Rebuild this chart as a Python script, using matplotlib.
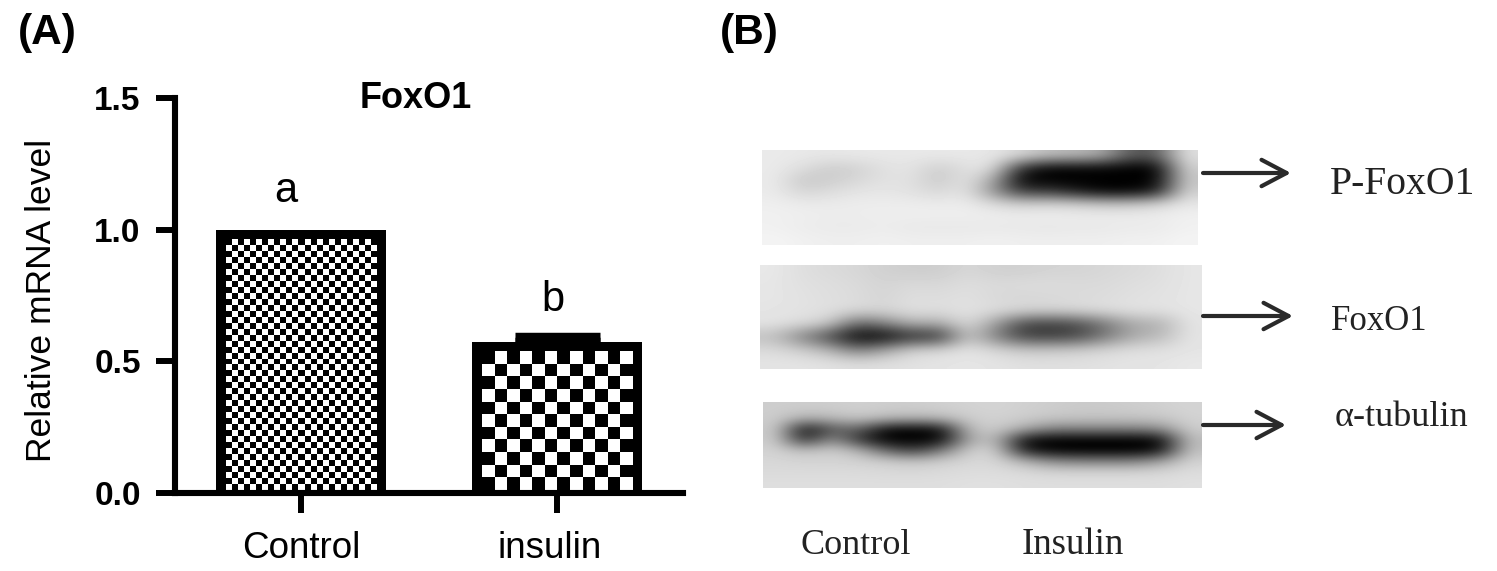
import numpy as np
import matplotlib
matplotlib.use('Agg')
import matplotlib.pyplot as plt
from matplotlib.transforms import ScaledTranslation

W, H = 1497, 571

# Bar chart values
categories = ['Control', 'insulin']
means = [1.0, 0.573]
errors = [0.0, 0.018]
letters = ['a', 'b']
yticks = [0.0, 0.5, 1.0, 1.5]

# Blot darkness grids (grey levels, 8 rows x 16 columns)
blot_pfoxo1 = [
    [234, 232, 230, 232, 232, 232, 232, 232, 230, 215, 190, 185, 170,  90,  90, 225],
    [234, 222, 205, 210, 225, 228, 205, 225, 225,  50,   5,   5,   5,   0,   0, 210],
    [234, 200, 205, 215, 225, 225, 200, 228, 170,   5,   0,   0,   0,   0,   0, 200],
    [234, 212, 220, 228, 230, 225, 215, 228, 150,  60,  60,  30,   5,   5,  30, 210],
    [238, 234, 234, 236, 236, 236, 234, 236, 218, 205, 210, 205, 195, 195, 210, 230],
    [240, 238, 236, 236, 238, 238, 238, 238, 238, 236, 238, 236, 236, 236, 236, 240],
    [240, 236, 234, 234, 236, 232, 232, 232, 232, 232, 230, 232, 232, 234, 234, 240],
    [244, 240, 238, 238, 240, 238, 238, 238, 240, 238, 238, 238, 238, 240, 240, 244],
]
blot_foxo1 = [
    [232, 222, 218, 215, 208, 205, 205, 215, 208, 208, 212, 212, 215, 218, 222, 230],
    [230, 224, 222, 218, 212, 218, 215, 222, 218, 220, 220, 218, 218, 222, 224, 230],
    [230, 226, 222, 220, 212, 222, 220, 224, 216, 214, 216, 218, 220, 224, 226, 230],
    [228, 226, 224, 218, 214, 224, 222, 226, 222, 216, 214, 218, 222, 226, 226, 230],
    [228, 220, 205, 100, 130, 180, 170, 222, 160,  70,  60,  75, 120, 170, 175, 228],
    [190, 130,  70,   0,   0,  40,  40, 200, 130,  65,  60,  70, 120, 170, 185, 228],
    [218, 205, 180, 120, 160, 210, 215, 228, 215, 200, 200, 205, 215, 222, 224, 228],
    [228, 228, 226, 222, 224, 226, 228, 230, 228, 224, 224, 224, 226, 228, 228, 232],
]
blot_tubulin = [
    [205, 205, 205, 208, 205, 205, 208, 210, 212, 208, 205, 202, 202, 205, 208, 212],
    [205, 175, 185, 198, 185, 180, 185, 205, 210, 205, 198, 195, 195, 195, 198, 210],
    [205,  10,  90, 100,  10,   5,  15, 190, 205, 170, 130, 130, 130, 130, 140, 205],
    [205,  35, 150,  50,   0,   0,   5, 170, 190,  15,   0,   0,   0,   0,   5, 190],
    [210, 190, 205, 180, 100,  60, 120, 205, 210,  30,   5,   0,   0,   0,  15, 195],
    [215, 212, 212, 210, 205, 195, 205, 215, 215, 180, 140, 130, 130, 130, 160, 210],
    [218, 218, 218, 218, 216, 216, 218, 220, 220, 218, 212, 212, 212, 212, 214, 220],
    [222, 222, 222, 222, 222, 222, 222, 224, 224, 222, 222, 222, 222, 222, 222, 224],
]
blot_grids = [blot_pfoxo1, blot_foxo1, blot_tubulin]
blot_names = ['P-FoxO1', 'FoxO1', '\u03b1-tubulin']
lane_names = ['Control', 'Insulin']

# pixel layout of the blot panel
blot_extents = [(762, 1198, 245, 150), (760, 1202, 369, 265), (763, 1202, 488, 402)]
arrow_y = [173, 316, 425]
arrow_end = [1291, 1293, 1286]
name_x = [1330, 1331, 1335]
name_y = [185, 322, 418]
name_size = [28.5, 25, 26]
lane_x = [800, 1022]
lane_size = [26, 26.5]

plt.rcParams['font.family'] = ['Liberation Sans', 'DejaVu Sans']

fig = plt.figure(figsize=(W / 100, H / 100), dpi=100)

# panel A
left, right, top, bottom = 175, 683, 98, 493
ax = fig.add_axes([left / W, 1 - bottom / H, (right - left) / W, (bottom - top) / H])
x_unit = 256
y_unit = (bottom - top) / 1.5
x = np.arange(len(categories))
bars = ax.bar(x, means, width=170 / x_unit, color='black', zorder=2)
ax.errorbar(x[1:], means[1:], yerr=[[0], errors[1:]], color='black', capsize=30.6,
            capthick=6.8, elinewidth=4, fmt='none', zorder=1)

# checker fill inside each bar, the bar keeps a thick black border
inset = 9.5
cell_px = [6, 12.2]
for bar, cell in zip(bars, cell_px):
    x0 = bar.get_x() + inset / x_unit
    x1 = bar.get_x() + bar.get_width() - inset / x_unit
    y0 = 3 / y_unit
    y1 = bar.get_height() - inset / y_unit
    nx = int(round((x1 - x0) * x_unit / cell))
    ny = int(round((y1 - y0) * y_unit / cell))
    rows, cols = np.indices((ny, nx))
    ax.imshow((rows + cols) % 2, cmap='gray', extent=(x0, x1, y0, y1), aspect='auto',
              interpolation='nearest', zorder=3)

ax.set_xlim(-126 / x_unit, (right - left - 126) / x_unit)
ax.set_ylim(0, 1.5)
ax.set_xticks(x)
ax.set_xticklabels(categories, fontsize=26.5)
ax.set_yticks(yticks)
ax.set_yticklabels(['%.1f' % v for v in yticks], fontsize=24, fontweight='bold')
ax.tick_params(axis='y', length=13.7, width=4.3, pad=11)
ax.tick_params(axis='x', length=14.4, width=4.3, pad=13)
# the insulin label sits a little left of its tick
lab = ax.get_xticklabels()[1]
lab.set_transform(lab.get_transform() + ScaledTranslation(-7 / 100, 0, fig.dpi_scale_trans))
for side in ['top', 'right']:
    ax.spines[side].set_visible(False)
for side in ['left', 'bottom']:
    ax.spines[side].set_linewidth(4.4)
    ax.spines[side].set_zorder(5)
ax.patch.set_visible(False)
for pos, letter, mean, err in zip(x, letters, means, errors):
    ax.text(pos - 0.06 if pos == 0 else pos - 0.015, mean + err + (0.07 if pos == 0 else 0.065), letter,
            fontsize=30, ha='center', va='bottom')

# panel B and the loose text, in picture pixels
ov = fig.add_axes([0, 0, 1, 1])
ov.set_xlim(0, W)
ov.set_ylim(H, 0)
ov.axis('off')
ov.patch.set_visible(False)
for grid, ext in zip(blot_grids, blot_extents):
    ov.imshow(np.array(grid), cmap='gray', vmin=0, vmax=255, extent=ext, aspect='auto',
              interpolation='bicubic')
ov.set_xlim(0, W)
ov.set_ylim(H, 0)

for y, end in zip(arrow_y, arrow_end):
    ov.annotate('', xy=(end, y), xytext=(1203, y),
                arrowprops=dict(arrowstyle='->,head_length=1.8,head_width=0.95', color='#2a2a2a',
                                lw=3, shrinkA=0, shrinkB=0))
for label, lx, ly, size in zip(blot_names, name_x, name_y, name_size):
    ov.text(lx, ly, label, family='Liberation Serif', fontsize=size, color='#222222',
            ha='left', va='center')
for label, lx, size in zip(lane_names, lane_x, lane_size):
    ov.text(lx, 545, label, family='Liberation Serif', fontsize=size, color='#222222',
            ha='left', va='center')

ov.text(18, 33, '(A)', fontsize=30.5, fontweight='bold', ha='left', va='center')
ov.text(720, 33, '(B)', fontsize=30.5, fontweight='bold', ha='left', va='center')
ov.text(416, 98, 'FoxO1', fontsize=26, fontweight='bold', ha='center', va='center')
ov.text(42, 300, 'Relative mRNA level', fontsize=25.5, rotation=90, ha='center', va='center')

fig.savefig('out.png', dpi=100)
